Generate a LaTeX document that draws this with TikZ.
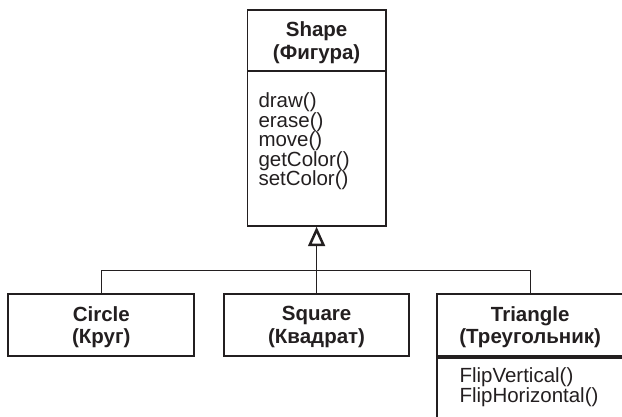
\documentclass[tikz,border=0pt]{standalone}
\usepackage{fontspec}
\setmainfont{Liberation Sans}
\usetikzlibrary{calc}
\definecolor{ink}{HTML}{231F20}
\begin{document}
\begin{tikzpicture}[x=1pt,y=-1pt,
  every node/.style={text=ink},
  classhead/.style={draw=ink, line width=1.7pt, inner sep=0pt,
    minimum width=186pt, minimum height=62pt},
  classname/.style={inner sep=0pt, align=center, yshift=-2pt,
    font=\bfseries\fontsize{20.5}{22.3}\selectfont},
  classbody/.style={draw=ink, line width=1.7pt, inner sep=0pt},
  oplist/.style={inner sep=0pt, anchor=north west, align=left,
    font=\fontsize{20.5}{19.6}\selectfont},
  link/.style={draw=ink, line width=1pt},
  hollowhead/.style={draw=ink, line width=2.5pt, line join=miter, fill=white},
]
\useasboundingbox (0,0) rectangle (622,416);

% base class
\node[classhead, minimum width=138.2pt, minimum height=61.3pt] (shapehead) at (316.6,40.65) {};
\node[classname] (shapename) at (shapehead.center) {Shape\\(Фигура)};
\node[classbody, minimum width=138.2pt, minimum height=154.7pt] (shapebody) at (316.6,148.65) {};
\node[oplist] (shapeops) at (258.3,92.5) {draw()\\erase()\\move()\\getColor()\\setColor()};

% derived classes
\node[classhead] (circle) at (101.3,325) {};
\node[classname] (circlename) at (circle.center) {Circle\\(Круг)};
\node[classhead, minimum width=185pt] (square) at (316.6,325) {};
\node[classname] (squarename) at (square.center) {Square\\(Квадрат)};
\node[classhead] (tri) at (530.2,325) {};
\node[classname] (triname) at (tri.center) {Triangle\\(Треугольник)};
\node[classbody, minimum width=186pt, minimum height=105pt, anchor=north] (tribody) at (tri.south) {};
\node[oplist] (triops) at (459.3,367.5) {FlipVertical()\\FlipHorizontal()};

% generalization tree: bus line, then a hollow triangle under the base class
\coordinate (bus) at (316.6,270.7);
\coordinate (apex) at ($(shapebody.south)+(0,3)$);
\coordinate (headbase) at ($(shapebody.south)+(0,18)$);
\draw[link] (circle.north) |- (bus) -| (tri.north);
\draw[link] (square.north) -- (bus);
\draw[link] (bus) -- (headbase);
\draw[hollowhead] (apex) -- ($(headbase)+(-6.8,0)$) -- ($(headbase)+(6.8,0)$) -- cycle;
\end{tikzpicture}
\end{document}
